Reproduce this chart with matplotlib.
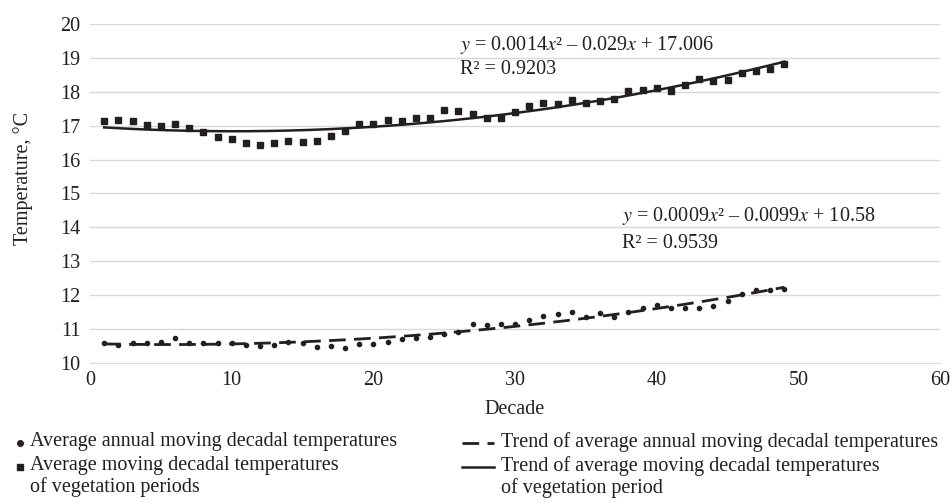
import numpy as np
import matplotlib
matplotlib.use("Agg")
import matplotlib.pyplot as plt
from matplotlib.lines import Line2D

plt.rcParams['font.family'] = ['Liberation Serif', 'DejaVu Serif']
plt.rcParams['mathtext.fontset'] = 'stix'

# decades (x) and the two series of moving decadal temperatures
decade = np.arange(1, 50)
veg_temp = [17.15, 17.18, 17.15, 17.03, 16.99, 17.05, 16.92, 16.80, 16.66, 16.62,
            16.50, 16.43, 16.48, 16.56, 16.53, 16.54, 16.69, 16.85, 17.05, 17.05,
            17.17, 17.15, 17.23, 17.23, 17.45, 17.42, 17.35, 17.23, 17.23, 17.39,
            17.59, 17.66, 17.64, 17.77, 17.67, 17.72, 17.80, 18.01, 18.04, 18.11,
            18.02, 18.21, 18.39, 18.31, 18.34, 18.54, 18.60, 18.67, 18.82]
annual_temp = [10.60, 10.53, 10.60, 10.60, 10.62, 10.73, 10.58, 10.60, 10.58, 10.58,
               10.53, 10.50, 10.53, 10.63, 10.60, 10.46, 10.51, 10.44, 10.56, 10.56,
               10.62, 10.72, 10.75, 10.78, 10.85, 10.90, 11.15, 11.13, 11.15, 11.15,
               11.26, 11.40, 11.44, 11.50, 11.37, 11.47, 11.37, 11.51, 11.63, 11.70,
               11.61, 11.61, 11.61, 11.69, 11.82, 12.05, 12.15, 12.15, 12.17]

eq_veg = "$y$ = 0.0014$x$² – 0.029$x$ + 17.006"
r2_veg = "R² = 0.9203"
eq_ann = "$y$ = 0.0009$x$² – 0.0099$x$ + 10.58"
r2_ann = "R² = 0.9539"

FS = 14.5
INK = '#231f20'
W, H = 951, 503
fig = plt.figure(figsize=(W / 100, H / 100), dpi=100)

def fx(p):
    return p / W

def fy(p):
    return 1 - p / H

ax = fig.add_axes([fx(90), fy(363), fx(940) - fx(90), fy(24) - fy(363)])

# polynomial trends (2nd order, like Excel)
xs = np.linspace(decade[0], decade[-1], 200)
p_veg = np.polyfit(decade, veg_temp, 2)
p_ann = np.polyfit(decade, annual_temp, 2)

ax.plot(decade, veg_temp, ls='none', marker='s', ms=4.8, color=INK, zorder=3)
ax.plot(decade, annual_temp, ls='none', marker='o', ms=3.0, color=INK, zorder=3)
ax.plot(xs, np.polyval(p_veg, xs), color=INK, lw=1.8, zorder=4)
ax.plot(xs, np.polyval(p_ann, xs), color=INK, lw=2.0, dashes=(6, 3), zorder=4)

ax.set_xlim(0, 60)
ax.set_ylim(10, 20)
ax.set_xticks(range(0, 61, 10))
ax.set_yticks(range(10, 21))
ax.grid(axis='y', color='#d9d9d9', lw=1.0)
ax.set_axisbelow(True)
for s in ['top', 'right', 'left']:
    ax.spines[s].set_visible(False)
ax.spines['bottom'].set_color('#d9d9d9')
ax.tick_params(length=0, labelsize=FS, colors=INK)
ax.tick_params(axis='y', pad=7)
ax.tick_params(axis='x', pad=6)

ax.set_xlabel("Decade", fontsize=FS, color=INK)
ax.set_ylabel("Temperature, °C", fontsize=FS, color=INK)
ax.xaxis.set_label_coords(0.5, (363 - 400) / 339)
ax.yaxis.set_label_coords((33 - 90) / 850, (363 - 178) / 339)

# trend equations
fig.text(fx(460), fy(45), eq_veg, fontsize=FS, va='center', color=INK)
fig.text(fx(460), fy(70), r2_veg, fontsize=FS, va='center', color=INK)
fig.text(fx(622), fy(216), eq_ann, fontsize=FS, va='center', color=INK)
fig.text(fx(622), fy(244), r2_ann, fontsize=FS, va='center', color=INK)

# legend drawn below the axes
legend_items = [
    (20, 443, dict(ls='none', marker='o', ms=4), "Average annual moving decadal temperatures"),
    (20, 467, dict(ls='none', marker='s', ms=5), "Average moving decadal temperatures\nof vegetation periods"),
    (478, 443, dict(lw=2.0, dashes=(6, 3)), "Trend of average annual moving decadal temperatures"),
    (478, 467, dict(lw=1.8), "Trend of average moving decadal temperatures\nof vegetation period"),
]
for x0, y0, style, label in legend_items:
    if style.get('ls') == 'none':
        xd = [fx(x0)]
        tx = x0 + 10
    else:
        xd = [fx(x0 - 16), fx(x0 + 16)]
        tx = x0 + 23
    fig.add_artist(Line2D(xd, [fy(y0)] * len(xd), color=INK,
                          transform=fig.transFigure, **style))
    fig.text(fx(tx), fy(y0 - 11), label, fontsize=FS, va='top', color=INK,
             linespacing=1.12)

fig.savefig("out.png", dpi=100)
